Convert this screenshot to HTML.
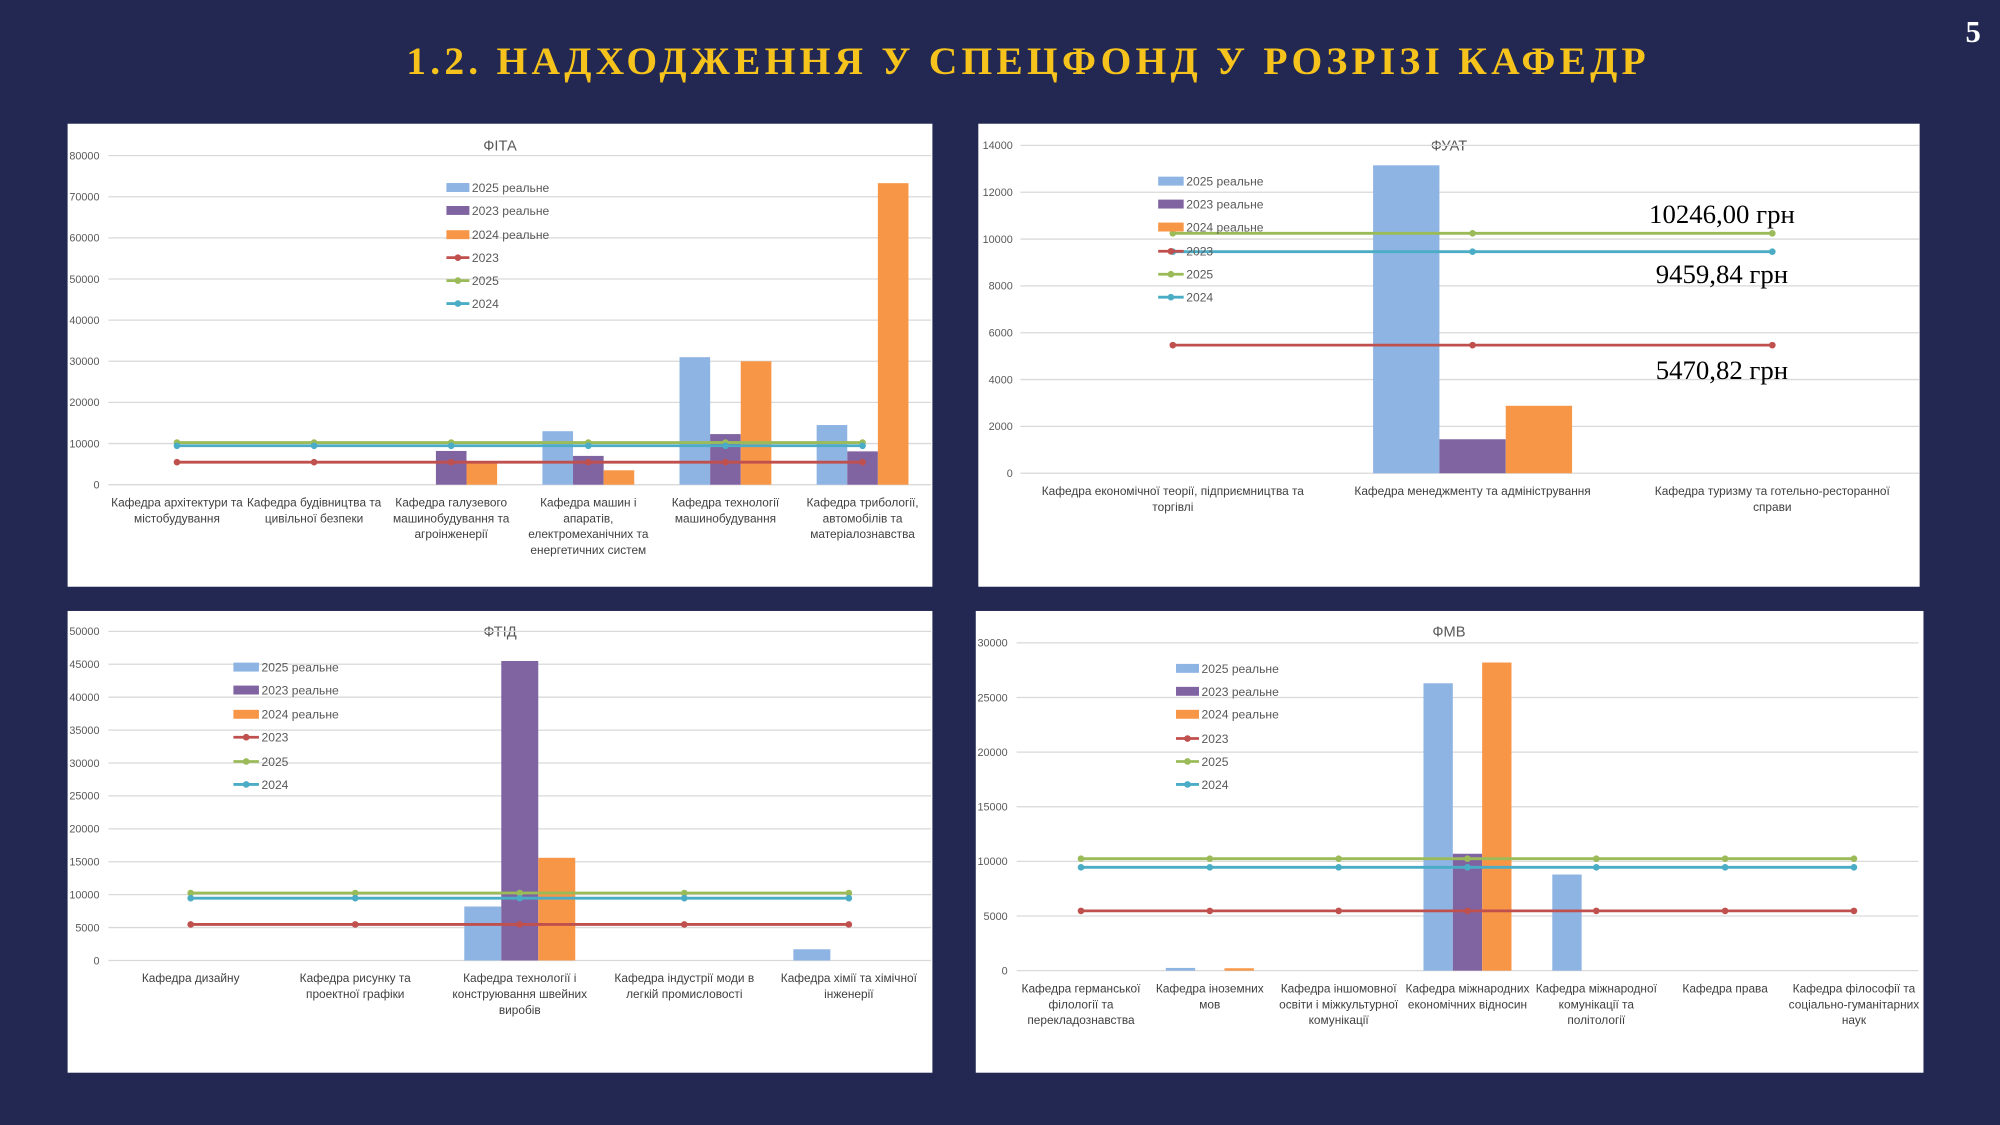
<!DOCTYPE html>
<html><head><meta charset="utf-8">
<style>
html,body{margin:0;padding:0;background:#222851;}
#s{display:block;width:2000px;height:1125px;}
text{font-family:"Liberation Sans",sans-serif;}
</style></head>
<body>
<svg id="s" viewBox="0 0 1568 882" xmlns="http://www.w3.org/2000/svg">
<rect width="1568" height="882" fill="#222851"/>
<text x="806" y="58" text-anchor="middle" style="font-family:'Liberation Serif',serif;font-weight:bold;font-size:31px;letter-spacing:3.3px" fill="#f6c21c">1.2. НАДХОДЖЕННЯ У СПЕЦФОНД У РОЗРІЗІ КАФЕДР</text>
<text x="1547" y="33" text-anchor="middle" style="font-family:'Liberation Serif',serif;font-weight:bold;font-size:24px" fill="#fff">5</text>
<g id="g"></g>
</svg>
<script>
var C={b:"#8eb4e3",p:"#8064a2",o:"#f79646",r:"#c0504d",g:"#9bbb59",t:"#4bacc6"};
var out="";
function T(x,y,s,sz,anchor,fill,extra){out+='<text x="'+x+'" y="'+y+'" font-size="'+sz+'" text-anchor="'+(anchor||"middle")+'" fill="'+(fill||"#404040")+'" '+(extra||"")+'>'+s+'</text>';}
function R(x,y,w,h,f){out+='<rect x="'+x+'" y="'+y+'" width="'+w+'" height="'+h+'" fill="'+f+'"/>';}
function L(x1,y1,x2,y2,c,w){out+='<line x1="'+x1+'" y1="'+y1+'" x2="'+x2+'" y2="'+y2+'" stroke="'+c+'" stroke-width="'+w+'"/>';}
function chart(o){
 R(o.px,o.py,o.pw,o.ph,"#fff");
 T(o.tx,o.ty,o.title,11.5,"middle","#595959");
 var sc=(o.y0-o.yTop)/o.max;
 for(var v=0;v<=o.max;v+=o.step){var y=o.y0-v*sc;L(o.gx1,y,o.gx2,y,"#d9d9d9",1);T(o.lx,y+3,v,8.5,"end","#595959");}
 var n=o.cats.length,cw=(o.gx2-o.gx1)/n;
 var cen=[];for(var i=0;i<n;i++)cen.push(o.gx1+cw*(i+0.5)+(o.shift||0));
 o.bars.forEach(function(b){var c=cen[b[0]],bw=o.bw;var cols=[C.b,C.p,C.o];
  [b[1],b[2],b[3]].forEach(function(v,k){if(v>0){var h=v*sc;R(c-1.5*bw+k*bw,o.y0-h,bw,h,cols[k]);}});});
 [[5470,C.r],[10246,C.g],[9460,C.t]].forEach(function(l){var y=o.y0-l[0]*sc;
  L(cen[0],y,cen[n-1],y,l[1],2.2);cen.forEach(function(c){out+='<circle cx="'+c+'" cy="'+y+'" r="2.6" fill="'+l[1]+'"/>';});});
 var names=["2025 реальне","2023 реальне","2024 реальне","2023","2025","2024"],cols=[C.b,C.p,C.o,C.r,C.g,C.t];
 for(var k=0;k<6;k++){var y=o.legY[k];
  if(k<3)R(o.legX,y-3.5,o.legW,7,cols[k]);else{L(o.legX,y,o.legX+o.legW,y,cols[k],2.2);out+='<circle cx="'+(o.legX+o.legW/2)+'" cy="'+y+'" r="2.6" fill="'+cols[k]+'"/>';}
  T(o.legX+o.legW+2,y+3.5,names[k],9.5,"start","#595959");}
 o.cats.forEach(function(c,i){c.forEach(function(line,j){T(cen[i],o.cy+j*12.5,line,9.3,"middle","#404040");});});
}
chart({px:53,py:97,pw:678,ph:363,title:"ФІТА",tx:392,ty:118,y0:380,yTop:122,max:80000,step:10000,gx1:85,gx2:730,lx:78,bw:24,
 bars:[[2,0,8200,5300],[3,13000,7000,3500],[4,31000,12300,30000],[5,14500,8100,73300]],
 legX:350,legW:18,legY:[147,165,184,202,220,238],cy:397,
 cats:[["Кафедра архітектури та","містобудування"],["Кафедра будівництва та","цивільної безпеки"],["Кафедра галузевого","машинобудування та","агроінженерії"],["Кафедра машин і","апаратів,","електромеханічних та","енергетичних систем"],["Кафедра технології","машинобудування"],["Кафедра трибології,","автомобілів та","матеріалознавства"]]});
chart({px:767,py:97,pw:738,ph:363,title:"ФУАТ",tx:1136,ty:118,y0:371,yTop:114,max:14000,step:2000,gx1:800,gx2:1505,lx:794,bw:52,shift:2,
 bars:[[1,13150,1450,2880]],
 legX:908,legW:20,legY:[142,160,178,197,215,233],cy:388,
 cats:[["Кафедра економічної теорії, підприємництва та","торгівлі"],["Кафедра менеджменту та адміністрування"],["Кафедра туризму та готельно-ресторанної","справи"]]});
chart({px:53,py:479,pw:678,ph:362,title:"ФТІД",tx:392,ty:499,y0:753,yTop:495,max:50000,step:5000,gx1:85,gx2:730,lx:78,bw:29,
 bars:[[2,8200,45500,15600],[4,1700,0,0]],
 legX:183,legW:20,legY:[523,541,560,578,597,615],cy:770,
 cats:[["Кафедра дизайну"],["Кафедра рисунку та","проектної графіки"],["Кафедра технології і","конструювання швейних","виробів"],["Кафедра індустрії моди в","легкій промисловості"],["Кафедра хімії та хімічної","інженерії"]]});
chart({px:765,py:479,pw:743,ph:362,title:"ФМВ",tx:1136,ty:499,y0:761,yTop:504,max:30000,step:5000,gx1:797,gx2:1504,lx:790,bw:23,
 bars:[[1,250,0,220],[3,26300,10700,28200],[4,8800,0,0]],
 legX:922,legW:18,legY:[524,542,560,579,597,615],cy:778,
 cats:[["Кафедра германської","філології та","перекладознавства"],["Кафедра іноземних","мов"],["Кафедра іншомовної","освіти і міжкультурної","комунікації"],["Кафедра міжнародних","економічних відносин"],["Кафедра міжнародної","комунікації та","політології"],["Кафедра права"],["Кафедра філософії та","соціально-гуманітарних","наук"]]});
var sf='style="font-family:\'Liberation Serif\',serif"';
T(1350,175,"10246,00 грн",21,"middle","#000",sf);
T(1350,222,"9459,84 грн",21,"middle","#000",sf);
T(1350,297,"5470,82 грн",21,"middle","#000",sf);
document.getElementById("g").innerHTML=out;
</script>
</body></html>
